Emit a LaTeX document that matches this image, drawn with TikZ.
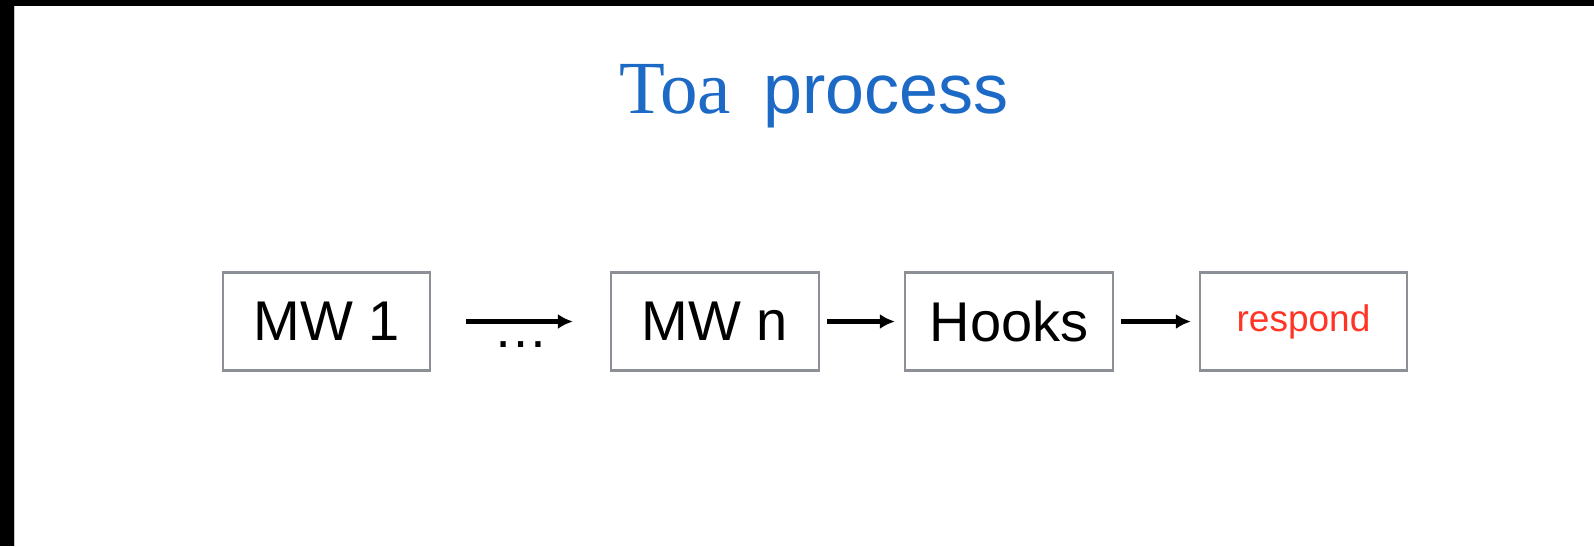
\documentclass[tikz,border=0pt]{standalone}
\usepackage{fontspec}
\setmainfont{Liberation Sans}
\newfontfamily\titleserif{Liberation Serif}
\usetikzlibrary{arrows.meta}
\definecolor{titleblue}{RGB}{28,106,198}
\definecolor{boxgray}{RGB}{140,144,150}
\definecolor{respondred}{RGB}{255,52,36}
\definecolor{edgegray}{RGB}{200,200,200}
\tikzset{
  stagebox/.style={draw=boxgray, line width=2.2pt, fill=white,
    minimum width=207pt, minimum height=98pt, inner sep=0pt,
    font=\fontsize{56}{60}\selectfont},
  flowarrow/.style={line width=4.5pt, -{Latex[length=15pt,width=15pt]}},
}
\begin{document}
\begin{tikzpicture}[x=1pt,y=-1pt]
  % page and frame edges
  \fill[white] (0,0) rectangle (1594,546);
  \useasboundingbox (0,0) rectangle (1594,546);
  \fill[black] (0,0) rectangle (1594,6);
  \fill[black] (0,0) rectangle (14,546);
  \draw[edgegray, line width=1.2pt] (14.6,6) -- (14.6,546);

  % title
  \node[anchor=base, text=titleblue, inner sep=0pt] (title) at (814,113)
    {{\titleserif\fontsize{75}{80}\selectfont Toa}\hspace{32pt}{\fontsize{70}{80}\selectfont process}};

  % stages
  \node[stagebox] (mw1)   at (326.5,321.5) {MW 1};
  \node[stagebox, minimum width=208pt] (mwn)   at (715,321.5) {MW n};
  \node[stagebox, minimum width=208pt] (hooks) at (1009,321.5) {Hooks};
  \node[stagebox, font=\fontsize{37}{40}\selectfont, text=respondred] (respond) at (1303.5,321.5) {respond};

  % connectors
  \draw[flowarrow, shorten <=35pt, shorten >=37pt] (mw1) --
    node[midway, anchor=base, yshift=-26pt, inner sep=0pt, font=\fontsize{55}{60}\selectfont] (dots) {…} (mwn);
  \draw[flowarrow, shorten <=7pt, shorten >=9pt] (mwn) -- (hooks);
  \draw[flowarrow, shorten <=7pt, shorten >=8pt] (hooks) -- (respond);
\end{tikzpicture}
\end{document}
